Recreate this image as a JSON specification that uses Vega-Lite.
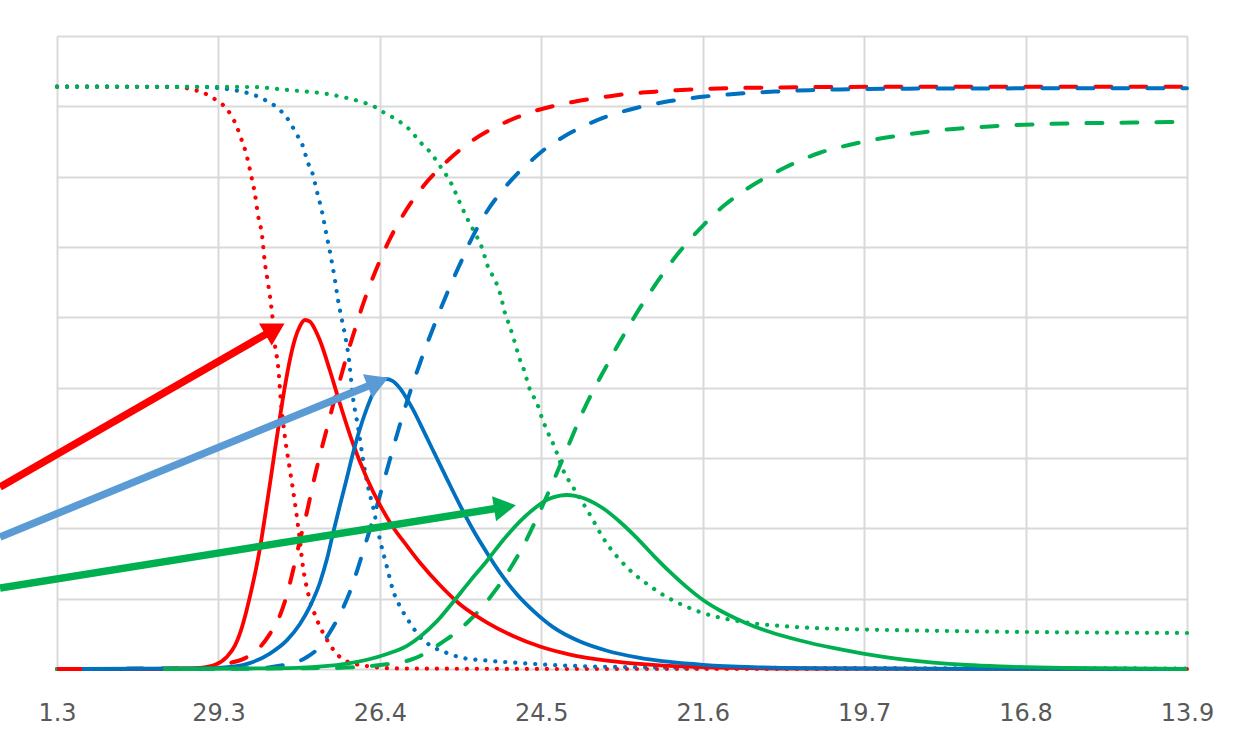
{
"$schema": "https://vega.github.io/schema/vega-lite/v6.json",
"width": 1130, "height": 633,
"autosize": {"type": "none"},
"padding": {"left": 57, "top": 36, "right": 68, "bottom": 81},
"background": "white",
"config": {"view": {"stroke": null}},
"datasets": {
"curves": [
{"g":"A","k":"fall","x":0,"y":82.8},{"g":"A","k":"fall","x":7.62,"y":82.75},{"g":"A","k":"fall","x":8.42,"y":82.33},{"g":"A","k":"fall","x":8.98,"y":82.04},{"g":"A","k":"fall","x":9.54,"y":81.33},{"g":"A","k":"fall","x":10.04,"y":80.62},{"g":"A","k":"fall","x":10.53,"y":79.62},{"g":"A","k":"fall","x":10.84,"y":78.49},{"g":"A","k":"fall","x":11.15,"y":77.07},{"g":"A","k":"fall","x":11.34,"y":75.79},{"g":"A","k":"fall","x":11.58,"y":74.36},{"g":"A","k":"fall","x":11.77,"y":72.8},{"g":"A","k":"fall","x":12.02,"y":70.24},{"g":"A","k":"fall","x":12.27,"y":67.4},{"g":"A","k":"fall","x":12.45,"y":64.55},{"g":"A","k":"fall","x":12.7,"y":61.71},{"g":"A","k":"fall","x":12.88,"y":57.73},{"g":"A","k":"fall","x":13.07,"y":54.88},{"g":"A","k":"fall","x":13.32,"y":50.62},{"g":"A","k":"fall","x":13.5,"y":46.07},{"g":"A","k":"fall","x":13.69,"y":43.23},{"g":"A","k":"fall","x":13.88,"y":37.82},{"g":"A","k":"fall","x":14.12,"y":32.99},{"g":"A","k":"fall","x":14.43,"y":28.3},{"g":"A","k":"fall","x":14.74,"y":23.6},{"g":"A","k":"fall","x":14.99,"y":19.34},{"g":"A","k":"fall","x":15.24,"y":14.5},{"g":"A","k":"fall","x":15.55,"y":10.81},{"g":"A","k":"fall","x":16.11,"y":6.97},{"g":"A","k":"fall","x":16.73,"y":4.12},{"g":"A","k":"fall","x":17.53,"y":1.71},{"g":"A","k":"fall","x":18.77,"y":0.57},{"g":"A","k":"fall","x":21.25,"y":0.07},{"g":"A","k":"fall","x":33.64,"y":0},{"g":"A","k":"fall","x":70,"y":0},
{"g":"B","k":"fall","x":0,"y":82.8},{"g":"B","k":"fall","x":8.86,"y":82.75},{"g":"B","k":"fall","x":10.9,"y":82.33},{"g":"B","k":"fall","x":11.58,"y":82.04},{"g":"B","k":"fall","x":12.2,"y":81.62},{"g":"B","k":"fall","x":12.76,"y":81.05},{"g":"B","k":"fall","x":13.32,"y":80.34},{"g":"B","k":"fall","x":13.81,"y":79.48},{"g":"B","k":"fall","x":14.25,"y":78.35},{"g":"B","k":"fall","x":14.56,"y":77.21},{"g":"B","k":"fall","x":14.87,"y":75.93},{"g":"B","k":"fall","x":15.18,"y":74.65},{"g":"B","k":"fall","x":15.36,"y":73.37},{"g":"B","k":"fall","x":15.55,"y":71.95},{"g":"B","k":"fall","x":15.8,"y":70.67},{"g":"B","k":"fall","x":16.11,"y":67.82},{"g":"B","k":"fall","x":16.42,"y":64.98},{"g":"B","k":"fall","x":16.66,"y":62.14},{"g":"B","k":"fall","x":16.91,"y":59.29},{"g":"B","k":"fall","x":17.22,"y":55.31},{"g":"B","k":"fall","x":17.41,"y":52.47},{"g":"B","k":"fall","x":17.65,"y":49.62},{"g":"B","k":"fall","x":17.9,"y":46.78},{"g":"B","k":"fall","x":18.09,"y":43.94},{"g":"B","k":"fall","x":18.34,"y":38.53},{"g":"B","k":"fall","x":18.65,"y":34.41},{"g":"B","k":"fall","x":18.96,"y":29.72},{"g":"B","k":"fall","x":19.27,"y":25.88},{"g":"B","k":"fall","x":19.58,"y":23.03},{"g":"B","k":"fall","x":20.01,"y":18.34},{"g":"B","k":"fall","x":20.44,"y":14.5},{"g":"B","k":"fall","x":20.81,"y":11.23},{"g":"B","k":"fall","x":21.37,"y":8.39},{"g":"B","k":"fall","x":21.87,"y":6.54},{"g":"B","k":"fall","x":22.49,"y":4.55},{"g":"B","k":"fall","x":23.29,"y":3.13},{"g":"B","k":"fall","x":24.16,"y":2.28},{"g":"B","k":"fall","x":25.15,"y":1.56},{"g":"B","k":"fall","x":26.64,"y":1.2},{"g":"B","k":"fall","x":28.68,"y":0.85},{"g":"B","k":"fall","x":30.73,"y":0.57},{"g":"B","k":"fall","x":34.88,"y":0.28},{"g":"B","k":"fall","x":46.03,"y":0.14},{"g":"B","k":"fall","x":70,"y":0.07},
{"g":"C","k":"fall","x":0,"y":82.8},{"g":"C","k":"fall","x":11.96,"y":82.75},{"g":"C","k":"fall","x":14.25,"y":82.33},{"g":"C","k":"fall","x":16.73,"y":81.76},{"g":"C","k":"fall","x":17.96,"y":81.19},{"g":"C","k":"fall","x":19.08,"y":80.48},{"g":"C","k":"fall","x":19.7,"y":79.91},{"g":"C","k":"fall","x":20.19,"y":79.2},{"g":"C","k":"fall","x":20.75,"y":78.49},{"g":"C","k":"fall","x":21.25,"y":77.78},{"g":"C","k":"fall","x":21.87,"y":76.64},{"g":"C","k":"fall","x":22.49,"y":74.93},{"g":"C","k":"fall","x":23.11,"y":73.51},{"g":"C","k":"fall","x":23.73,"y":71.52},{"g":"C","k":"fall","x":24.47,"y":68.82},{"g":"C","k":"fall","x":24.96,"y":66.26},{"g":"C","k":"fall","x":25.46,"y":63.84},{"g":"C","k":"fall","x":25.89,"y":61.99},{"g":"C","k":"fall","x":26.33,"y":59.86},{"g":"C","k":"fall","x":26.7,"y":57.16},{"g":"C","k":"fall","x":27.13,"y":55.31},{"g":"C","k":"fall","x":27.44,"y":53.46},{"g":"C","k":"fall","x":27.75,"y":50.62},{"g":"C","k":"fall","x":28.06,"y":48.63},{"g":"C","k":"fall","x":28.37,"y":46.35},{"g":"C","k":"fall","x":28.68,"y":43.94},{"g":"C","k":"fall","x":28.93,"y":42.51},{"g":"C","k":"fall","x":29.3,"y":39.67},{"g":"C","k":"fall","x":29.73,"y":37.82},{"g":"C","k":"fall","x":30.04,"y":35.69},{"g":"C","k":"fall","x":30.42,"y":33.56},{"g":"C","k":"fall","x":30.85,"y":31.42},{"g":"C","k":"fall","x":31.35,"y":28.3},{"g":"C","k":"fall","x":31.96,"y":25.88},{"g":"C","k":"fall","x":32.58,"y":23.6},{"g":"C","k":"fall","x":33.2,"y":21.19},{"g":"C","k":"fall","x":33.76,"y":18.9},{"g":"C","k":"fall","x":34.26,"y":17.2},{"g":"C","k":"fall","x":34.88,"y":15.5},{"g":"C","k":"fall","x":35.68,"y":13.65},{"g":"C","k":"fall","x":36.55,"y":12.1},{"g":"C","k":"fall","x":37.35,"y":10.81},{"g":"C","k":"fall","x":38.16,"y":9.75},{"g":"C","k":"fall","x":39.03,"y":8.82},{"g":"C","k":"fall","x":39.83,"y":8.1},{"g":"C","k":"fall","x":41.5,"y":7.1},{"g":"C","k":"fall","x":43.12,"y":6.5},{"g":"C","k":"fall","x":45.22,"y":6.05},{"g":"C","k":"fall","x":47.26,"y":5.8},{"g":"C","k":"fall","x":49.93,"y":5.62},{"g":"C","k":"fall","x":55.32,"y":5.4},{"g":"C","k":"fall","x":60.09,"y":5.26},{"g":"C","k":"fall","x":70,"y":5.12},
{"g":"A","k":"rise","x":0,"y":0},{"g":"A","k":"rise","x":8.86,"y":0.07},{"g":"A","k":"rise","x":10.72,"y":0.85},{"g":"A","k":"rise","x":11.77,"y":1.7},{"g":"A","k":"rise","x":12.58,"y":3.13},{"g":"A","k":"rise","x":13.19,"y":5.0},{"g":"A","k":"rise","x":13.81,"y":7.6},{"g":"A","k":"rise","x":14.25,"y":10.6},{"g":"A","k":"rise","x":14.62,"y":14.0},{"g":"A","k":"rise","x":15.05,"y":18.3},{"g":"A","k":"rise","x":15.49,"y":22.4},{"g":"A","k":"rise","x":15.86,"y":26.3},{"g":"A","k":"rise","x":16.29,"y":30.43},{"g":"A","k":"rise","x":16.73,"y":34.27},{"g":"A","k":"rise","x":17.1,"y":37.54},{"g":"A","k":"rise","x":17.53,"y":41.09},{"g":"A","k":"rise","x":17.96,"y":44.6},{"g":"A","k":"rise","x":18.46,"y":48.3},{"g":"A","k":"rise","x":18.89,"y":51.4},{"g":"A","k":"rise","x":19.39,"y":54.6},{"g":"A","k":"rise","x":20.01,"y":58.1},{"g":"A","k":"rise","x":20.63,"y":61.2},{"g":"A","k":"rise","x":21.37,"y":64.27},{"g":"A","k":"rise","x":22.05,"y":66.69},{"g":"A","k":"rise","x":22.8,"y":68.96},{"g":"A","k":"rise","x":23.42,"y":70.52},{"g":"A","k":"rise","x":24.16,"y":72.2},{"g":"A","k":"rise","x":24.96,"y":73.8},{"g":"A","k":"rise","x":25.77,"y":75.2},{"g":"A","k":"rise","x":26.82,"y":76.64},{"g":"A","k":"rise","x":27.75,"y":77.7},{"g":"A","k":"rise","x":28.56,"y":78.49},{"g":"A","k":"rise","x":29.8,"y":79.48},{"g":"A","k":"rise","x":30.85,"y":80.1},{"g":"A","k":"rise","x":31.96,"y":80.62},{"g":"A","k":"rise","x":33.02,"y":81.05},{"g":"A","k":"rise","x":34.13,"y":81.4},{"g":"A","k":"rise","x":35.06,"y":81.7},{"g":"A","k":"rise","x":36.24,"y":81.95},{"g":"A","k":"rise","x":37.23,"y":82.12},{"g":"A","k":"rise","x":38.41,"y":82.3},{"g":"A","k":"rise","x":39.4,"y":82.42},{"g":"A","k":"rise","x":41.57,"y":82.58},{"g":"A","k":"rise","x":43.73,"y":82.66},{"g":"A","k":"rise","x":46.03,"y":82.72},{"g":"A","k":"rise","x":52.22,"y":82.78},{"g":"A","k":"rise","x":70,"y":82.8},
{"g":"B","k":"rise","x":0,"y":0},{"g":"B","k":"rise","x":11.96,"y":0.07},{"g":"B","k":"rise","x":14.62,"y":0.85},{"g":"B","k":"rise","x":15.49,"y":1.7},{"g":"B","k":"rise","x":16.29,"y":3.2},{"g":"B","k":"rise","x":16.79,"y":4.8},{"g":"B","k":"rise","x":17.72,"y":8.7},{"g":"B","k":"rise","x":18.15,"y":11.0},{"g":"B","k":"rise","x":18.65,"y":14.4},{"g":"B","k":"rise","x":19.08,"y":17.6},{"g":"B","k":"rise","x":19.58,"y":21.3},{"g":"B","k":"rise","x":20.01,"y":24.74},{"g":"B","k":"rise","x":20.44,"y":28.3},{"g":"B","k":"rise","x":20.81,"y":31.3},{"g":"B","k":"rise","x":21.25,"y":34.8},{"g":"B","k":"rise","x":21.68,"y":38.0},{"g":"B","k":"rise","x":21.99,"y":40.2},{"g":"B","k":"rise","x":22.49,"y":43.51},{"g":"B","k":"rise","x":22.8,"y":45.5},{"g":"B","k":"rise","x":23.29,"y":48.4},{"g":"B","k":"rise","x":23.73,"y":51.0},{"g":"B","k":"rise","x":24.16,"y":53.4},{"g":"B","k":"rise","x":24.65,"y":56.0},{"g":"B","k":"rise","x":25.09,"y":58.2},{"g":"B","k":"rise","x":25.58,"y":60.7},{"g":"B","k":"rise","x":26.08,"y":62.9},{"g":"B","k":"rise","x":26.7,"y":65.3},{"g":"B","k":"rise","x":27.26,"y":67.1},{"g":"B","k":"rise","x":28.06,"y":69.3},{"g":"B","k":"rise","x":28.68,"y":70.81},{"g":"B","k":"rise","x":29.49,"y":72.5},{"g":"B","k":"rise","x":30.23,"y":73.94},{"g":"B","k":"rise","x":31.16,"y":75.36},{"g":"B","k":"rise","x":31.78,"y":76.2},{"g":"B","k":"rise","x":32.83,"y":77.4},{"g":"B","k":"rise","x":33.82,"y":78.35},{"g":"B","k":"rise","x":34.88,"y":79.15},{"g":"B","k":"rise","x":35.93,"y":79.8},{"g":"B","k":"rise","x":36.92,"y":80.3},{"g":"B","k":"rise","x":37.97,"y":80.75},{"g":"B","k":"rise","x":39.09,"y":81.1},{"g":"B","k":"rise","x":40.14,"y":81.4},{"g":"B","k":"rise","x":41.26,"y":81.62},{"g":"B","k":"rise","x":42.31,"y":81.82},{"g":"B","k":"rise","x":44.48,"y":82.1},{"g":"B","k":"rise","x":46.65,"y":82.3},{"g":"B","k":"rise","x":48.5,"y":82.4},{"g":"B","k":"rise","x":55.32,"y":82.54},{"g":"B","k":"rise","x":70,"y":82.57},
{"g":"C","k":"rise","x":0,"y":0},{"g":"C","k":"rise","x":16.91,"y":0.14},{"g":"C","k":"rise","x":20.01,"y":0.57},{"g":"C","k":"rise","x":21.87,"y":1.28},{"g":"C","k":"rise","x":22.49,"y":1.85},{"g":"C","k":"rise","x":23.54,"y":3.3},{"g":"C","k":"rise","x":24.78,"y":5.3},{"g":"C","k":"rise","x":25.58,"y":6.97},{"g":"C","k":"rise","x":26.39,"y":8.95},{"g":"C","k":"rise","x":27.13,"y":11.1},{"g":"C","k":"rise","x":27.88,"y":13.6},{"g":"C","k":"rise","x":28.5,"y":15.92},{"g":"C","k":"rise","x":29.11,"y":18.5},{"g":"C","k":"rise","x":29.49,"y":20.3},{"g":"C","k":"rise","x":30.11,"y":23.4},{"g":"C","k":"rise","x":30.54,"y":25.6},{"g":"C","k":"rise","x":30.97,"y":27.9},{"g":"C","k":"rise","x":31.41,"y":30.3},{"g":"C","k":"rise","x":31.96,"y":33.3},{"g":"C","k":"rise","x":32.58,"y":36.6},{"g":"C","k":"rise","x":33.02,"y":38.7},{"g":"C","k":"rise","x":33.64,"y":41.4},{"g":"C","k":"rise","x":34.07,"y":43.2},{"g":"C","k":"rise","x":34.44,"y":44.8},{"g":"C","k":"rise","x":34.88,"y":46.6},{"g":"C","k":"rise","x":35.5,"y":49.0},{"g":"C","k":"rise","x":35.99,"y":50.9},{"g":"C","k":"rise","x":36.61,"y":53.1},{"g":"C","k":"rise","x":37.17,"y":55.0},{"g":"C","k":"rise","x":37.79,"y":57.0},{"g":"C","k":"rise","x":38.41,"y":58.9},{"g":"C","k":"rise","x":39.03,"y":60.6},{"g":"C","k":"rise","x":39.96,"y":62.9},{"g":"C","k":"rise","x":40.64,"y":64.5},{"g":"C","k":"rise","x":41.38,"y":66.0},{"g":"C","k":"rise","x":42.31,"y":67.6},{"g":"C","k":"rise","x":43.24,"y":69.0},{"g":"C","k":"rise","x":44.17,"y":70.2},{"g":"C","k":"rise","x":45.1,"y":71.3},{"g":"C","k":"rise","x":46.03,"y":72.3},{"g":"C","k":"rise","x":47.26,"y":73.4},{"g":"C","k":"rise","x":49.25,"y":74.6},{"g":"C","k":"rise","x":50.36,"y":75.15},{"g":"C","k":"rise","x":52.53,"y":75.95},{"g":"C","k":"rise","x":54.7,"y":76.6},{"g":"C","k":"rise","x":56.87,"y":77.0},{"g":"C","k":"rise","x":59.03,"y":77.3},{"g":"C","k":"rise","x":61.2,"y":77.48},{"g":"C","k":"rise","x":63.37,"y":77.6},{"g":"C","k":"rise","x":65.54,"y":77.67},{"g":"C","k":"rise","x":67.71,"y":77.73},{"g":"C","k":"rise","x":70,"y":77.78},
{"g":"A","k":"peak","x":0,"y":0},{"g":"A","k":"peak","x":5.76,"y":0},{"g":"A","k":"peak","x":7.62,"y":0.07},{"g":"A","k":"peak","x":8.86,"y":0.17},{"g":"A","k":"peak","x":9.79,"y":0.6},{"g":"A","k":"peak","x":10.53,"y":1.75},{"g":"A","k":"peak","x":11.03,"y":3.35},{"g":"A","k":"peak","x":11.34,"y":5.1},{"g":"A","k":"peak","x":11.65,"y":7.5},{"g":"A","k":"peak","x":11.96,"y":10.4},{"g":"A","k":"peak","x":12.27,"y":13.6},{"g":"A","k":"peak","x":12.58,"y":17.3},{"g":"A","k":"peak","x":12.88,"y":21.61},{"g":"A","k":"peak","x":13.19,"y":26.3},{"g":"A","k":"peak","x":13.5,"y":31.14},{"g":"A","k":"peak","x":13.81,"y":35.8},{"g":"A","k":"peak","x":14.12,"y":40.2},{"g":"A","k":"peak","x":14.43,"y":44.0},{"g":"A","k":"peak","x":14.74,"y":46.9},{"g":"A","k":"peak","x":15.05,"y":48.75},{"g":"A","k":"peak","x":15.36,"y":49.62},{"g":"A","k":"peak","x":15.67,"y":49.4},{"g":"A","k":"peak","x":15.98,"y":48.3},{"g":"A","k":"peak","x":16.29,"y":46.7},{"g":"A","k":"peak","x":16.91,"y":42.4},{"g":"A","k":"peak","x":17.53,"y":37.7},{"g":"A","k":"peak","x":18.34,"y":32.0},{"g":"A","k":"peak","x":19.2,"y":27.1},{"g":"A","k":"peak","x":20.01,"y":23.3},{"g":"A","k":"peak","x":20.81,"y":20.2},{"g":"A","k":"peak","x":21.68,"y":17.5},{"g":"A","k":"peak","x":22.49,"y":15.1},{"g":"A","k":"peak","x":23.73,"y":11.9},{"g":"A","k":"peak","x":24.96,"y":9.2},{"g":"A","k":"peak","x":26.64,"y":6.6},{"g":"A","k":"peak","x":28.25,"y":4.7},{"g":"A","k":"peak","x":29.92,"y":3.2},{"g":"A","k":"peak","x":31.78,"y":2.05},{"g":"A","k":"peak","x":34.07,"y":1.2},{"g":"A","k":"peak","x":36.92,"y":0.6},{"g":"A","k":"peak","x":40.02,"y":0.28},{"g":"A","k":"peak","x":46.03,"y":0.07},{"g":"A","k":"peak","x":70,"y":0},
{"g":"B","k":"peak","x":1.55,"y":0},{"g":"B","k":"peak","x":8.86,"y":0.07},{"g":"B","k":"peak","x":10.72,"y":0.3},{"g":"B","k":"peak","x":12.14,"y":1.0},{"g":"B","k":"peak","x":13.19,"y":2.2},{"g":"B","k":"peak","x":14.25,"y":4.1},{"g":"B","k":"peak","x":15.05,"y":6.4},{"g":"B","k":"peak","x":15.67,"y":8.9},{"g":"B","k":"peak","x":16.29,"y":12.3},{"g":"B","k":"peak","x":16.73,"y":15.7},{"g":"B","k":"peak","x":17.1,"y":19.3},{"g":"B","k":"peak","x":17.53,"y":23.3},{"g":"B","k":"peak","x":17.96,"y":27.2},{"g":"B","k":"peak","x":18.34,"y":30.7},{"g":"B","k":"peak","x":18.77,"y":34.2},{"g":"B","k":"peak","x":19.2,"y":37.1},{"g":"B","k":"peak","x":19.58,"y":39.2},{"g":"B","k":"peak","x":20.01,"y":40.6},{"g":"B","k":"peak","x":20.38,"y":41.23},{"g":"B","k":"peak","x":20.75,"y":41.0},{"g":"B","k":"peak","x":21.25,"y":39.9},{"g":"B","k":"peak","x":21.68,"y":38.4},{"g":"B","k":"peak","x":22.05,"y":36.9},{"g":"B","k":"peak","x":22.49,"y":34.9},{"g":"B","k":"peak","x":23.29,"y":31.1},{"g":"B","k":"peak","x":24.16,"y":27.0},{"g":"B","k":"peak","x":24.96,"y":23.3},{"g":"B","k":"peak","x":25.77,"y":19.8},{"g":"B","k":"peak","x":26.64,"y":16.5},{"g":"B","k":"peak","x":27.44,"y":13.7},{"g":"B","k":"peak","x":28.5,"y":10.6},{"g":"B","k":"peak","x":29.49,"y":8.3},{"g":"B","k":"peak","x":30.73,"y":5.95},{"g":"B","k":"peak","x":32.4,"y":3.9},{"g":"B","k":"peak","x":34.07,"y":2.6},{"g":"B","k":"peak","x":35.93,"y":1.65},{"g":"B","k":"peak","x":37.97,"y":1.0},{"g":"B","k":"peak","x":40.02,"y":0.6},{"g":"B","k":"peak","x":43.12,"y":0.28},{"g":"B","k":"peak","x":49.12,"y":0.07},{"g":"B","k":"peak","x":70,"y":0},
{"g":"C","k":"peak","x":6.57,"y":0},{"g":"C","k":"peak","x":11.96,"y":0.07},{"g":"C","k":"peak","x":14.87,"y":0.17},{"g":"C","k":"peak","x":17.96,"y":0.75},{"g":"C","k":"peak","x":20.44,"y":2.13},{"g":"C","k":"peak","x":21.68,"y":3.3},{"g":"C","k":"peak","x":22.49,"y":4.6},{"g":"C","k":"peak","x":23.54,"y":6.8},{"g":"C","k":"peak","x":24.53,"y":9.5},{"g":"C","k":"peak","x":25.58,"y":12.5},{"g":"C","k":"peak","x":26.64,"y":15.4},{"g":"C","k":"peak","x":27.63,"y":18.3},{"g":"C","k":"peak","x":28.68,"y":21.0},{"g":"C","k":"peak","x":29.73,"y":23.1},{"g":"C","k":"peak","x":30.23,"y":23.9},{"g":"C","k":"peak","x":30.73,"y":24.4},{"g":"C","k":"peak","x":31.16,"y":24.66},{"g":"C","k":"peak","x":31.59,"y":24.74},{"g":"C","k":"peak","x":32.02,"y":24.66},{"g":"C","k":"peak","x":32.45,"y":24.42},{"g":"C","k":"peak","x":32.83,"y":24.1},{"g":"C","k":"peak","x":33.32,"y":23.55},{"g":"C","k":"peak","x":33.82,"y":22.85},{"g":"C","k":"peak","x":34.88,"y":20.9},{"g":"C","k":"peak","x":35.93,"y":18.6},{"g":"C","k":"peak","x":36.92,"y":16.2},{"g":"C","k":"peak","x":37.97,"y":13.8},{"g":"C","k":"peak","x":39.03,"y":11.6},{"g":"C","k":"peak","x":40.02,"y":9.81},{"g":"C","k":"peak","x":41.07,"y":8.32},{"g":"C","k":"peak","x":42.12,"y":7.11},{"g":"C","k":"peak","x":43.12,"y":6.11},{"g":"C","k":"peak","x":44.17,"y":5.26},{"g":"C","k":"peak","x":46.03,"y":4.05},{"g":"C","k":"peak","x":48.07,"y":2.99},{"g":"C","k":"peak","x":49.93,"y":2.2},{"g":"C","k":"peak","x":52.22,"y":1.42},{"g":"C","k":"peak","x":54.27,"y":0.92},{"g":"C","k":"peak","x":56.37,"y":0.57},{"g":"C","k":"peak","x":58.42,"y":0.36},{"g":"C","k":"peak","x":62.57,"y":0.14},{"g":"C","k":"peak","x":70,"y":0}
],
"arrows": [
{"t":"A","x":13.5,"y":48.34,"xs":-3.53,"ys":25.88},
{"t":"B","x":19.88,"y":40.81,"xs":-3.53,"ys":18.77},
{"t":"C","x":27.75,"y":23.03,"xs":-3.53,"ys":11.52}
]
},
"encoding": {
"x": {"field":"x","type":"quantitative","scale":{"domain":[0,70],"nice":false,"zero":false},
 "axis":{"title":null,"values":[0,10,20,30,40,50,60,70],"labelExpr":"['1.3','29.3','26.4','24.5','21.6','19.7','16.8','13.9'][round(datum.value/10)]","grid":true,"gridColor":"#D9D9D9","gridWidth":2,"ticks":false,"domain":false,"labelFont":"DejaVu Sans","labelFontSize":24,"labelColor":"#595959","labelPadding":51,"labelBaseline":"alphabetic","labelFlush":false,"labelOverlap":false}},
"y": {"field":"y","type":"quantitative","scale":{"domain":[0,90],"nice":false,"zero":false},
 "axis":{"title":null,"values":[0,10,20,30,40,50,60,70,80,90],"labels":false,"ticks":false,"domain":false,"grid":true,"gridColor":"#D9D9D9","gridWidth":2}}
},
"layer": [
{"data":{"name":"curves"},"transform":[{"filter":"datum.k === 'fall'"}],
 "mark":{"type":"line","strokeWidth":4.2,"strokeDash":[0.1,9.9],"strokeCap":"round","interpolate":"monotone"},
 "encoding":{"color":{"field":"g","type":"nominal","scale":{"domain":["A","B","C"],"range":["#FF0000","#0070C0","#00B050"]},"legend":null}}},
{"data":{"name":"curves"},"transform":[{"filter":"datum.k === 'rise'"}],
 "mark":{"type":"line","strokeWidth":4,"strokeDash":[16,19],"strokeCap":"round","interpolate":"monotone"},
 "encoding":{"color":{"field":"g","type":"nominal","scale":{"domain":["A","B","C"],"range":["#FF0000","#0070C0","#00B050"]},"legend":null}}},
{"data":{"name":"curves"},"transform":[{"filter":"datum.k === 'peak' && datum.g === 'A'"}],
 "mark":{"type":"line","strokeWidth":3.8,"interpolate":"monotone","color":"#FF0000"}},
{"data":{"name":"curves"},"transform":[{"filter":"datum.k === 'peak' && datum.g === 'B'"}],
 "mark":{"type":"line","strokeWidth":3.8,"interpolate":"monotone","color":"#0070C0"}},
{"data":{"name":"curves"},"transform":[{"filter":"datum.k === 'peak' && datum.g === 'C'"}],
 "mark":{"type":"line","strokeWidth":3.8,"interpolate":"monotone","color":"#00B050"}},
{"data":{"name":"arrows"},
 "mark":{"type":"rule","strokeWidth":7.5,"strokeCap":"butt","clip":false},
 "encoding":{"x2":{"field":"xs"},"y2":{"field":"ys"},
  "color":{"field":"t","type":"nominal","scale":{"domain":["A","B","C"],"range":["#FF0000","#5B9BD5","#00B050"]},"legend":null}}},
{"data":{"name":"arrows"},"transform":[{"filter":"datum.t === 'A'"}],
 "mark":{"type":"point","shape":"triangle-right","filled":true,"size":650,"angle":330,"color":"#FF0000","opacity":1}},
{"data":{"name":"arrows"},"transform":[{"filter":"datum.t === 'B'"}],
 "mark":{"type":"point","shape":"triangle-right","filled":true,"size":650,"angle":338,"color":"#5B9BD5","opacity":1}},
{"data":{"name":"arrows"},"transform":[{"filter":"datum.t === 'C'"}],
 "mark":{"type":"point","shape":"triangle-right","filled":true,"size":650,"angle":351,"color":"#00B050","opacity":1}}
],
"resolve": {"scale": {"color": "independent"}}
}
